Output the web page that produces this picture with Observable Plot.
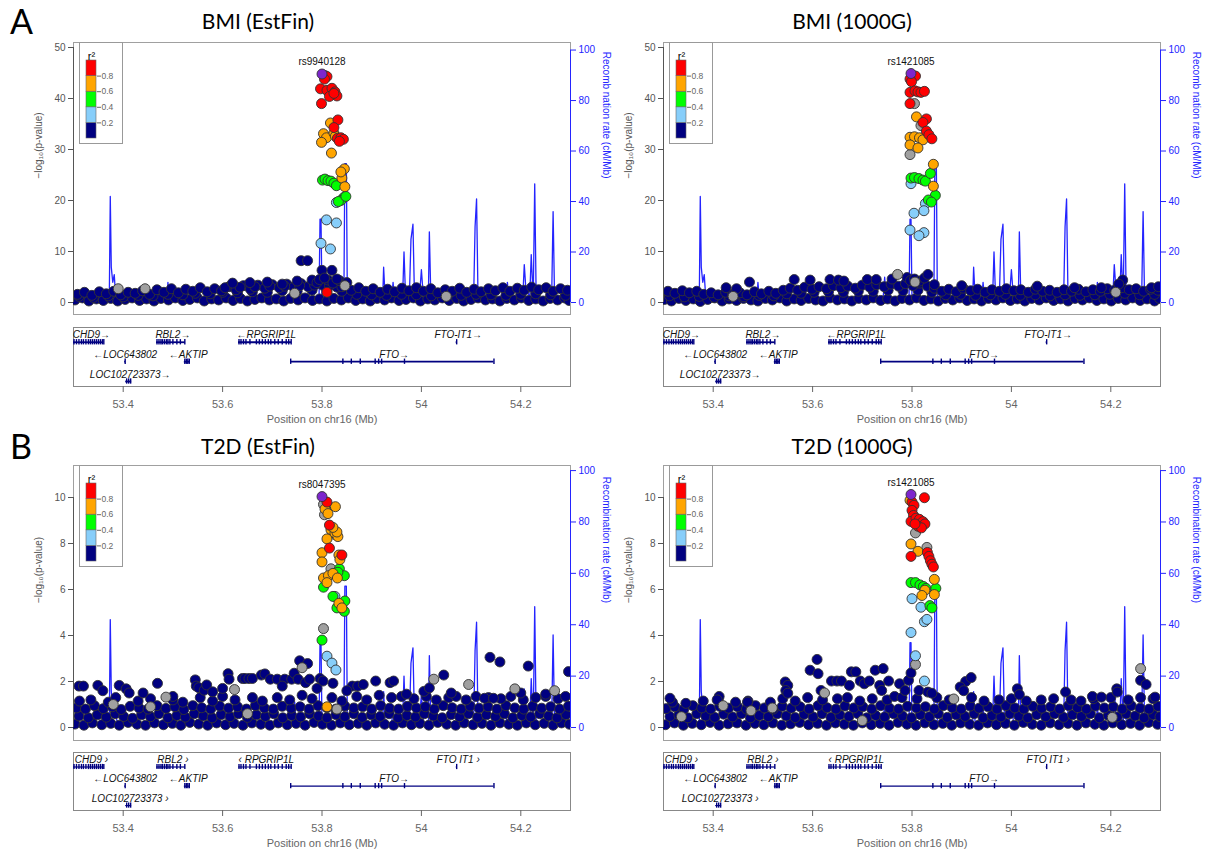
<!DOCTYPE html>
<html><head><meta charset="utf-8">
<script src="https://cdn.jsdelivr.net/npm/d3@7"></script>
<script src="https://cdn.jsdelivr.net/npm/@observablehq/plot@0.6"></script>
<style>
body{margin:0;background:#fff;}
#root{position:relative;width:1211px;height:850px;overflow:hidden;font-family:"Liberation Sans",Arial,sans-serif;}
.abs{position:absolute;}
.ttl{font-family:Lato,"Open Sans",sans-serif;font-size:21px;color:#000;transform:translate(-50%,-50%);white-space:nowrap;}
.let{font-family:Lato,"Open Sans",sans-serif;font-size:34px;line-height:1;color:#000;}
.leg{border:1px solid #999;background:#fff;}
</style></head>
<body><div id="root"></div>
<script>
// ---------------- shared data ----------------
const xTicks = [53.4, 53.6, 53.8, 54, 54.2];
const recomb = [[53.300,1.5],[53.330,1.2],[53.360,2.0],[53.372,1.0],[53.374,42],[53.376,14],[53.379,8],[53.382,11],[53.384,5],[53.387,3],[53.390,1],[53.420,0.8],[53.450,0.5],[53.488,1],[53.490,8],[53.493,1],[53.530,0.8],[53.570,1.2],[53.610,2],[53.650,1.5],[53.700,1.5],[53.742,2],[53.745,10],[53.748,1.5],[53.780,0.8],[53.794,1],[53.796,33],[53.798,33],[53.800,1],[53.830,0.8],[53.844,1],[53.846,55],[53.849,55],[53.851,1],[53.870,1],[53.873,5],[53.876,1],[53.900,1],[53.922,1],[53.924,14],[53.927,2],[53.940,1],[53.943,8],[53.946,1],[53.962,1],[53.965,20],[53.968,3],[53.976,4],[53.979,25],[53.983,31],[53.986,3],[53.996,2],[54.000,13],[54.004,2],[54.014,2],[54.016,28],[54.019,2],[54.050,1.5],[54.080,1],[54.105,1],[54.108,30],[54.111,41],[54.114,1],[54.150,1],[54.170,1],[54.173,8],[54.176,2],[54.204,2],[54.207,15],[54.210,6],[54.218,2],[54.221,19],[54.225,1],[54.228,47],[54.231,1],[54.262,1],[54.265,36],[54.268,1],[54.285,3],[54.300,6]];

const geneName  = ["CHD9","RBL2","RPGRIP1L","FTO-IT1","LOC643802","AKTIP","FTO","LOC102723373"];
const geneStart = [53.300,53.467,53.632,54.070,53.403,53.523,53.737,53.405];
const geneEnd   = [53.361,53.525,53.739,54.072,53.405,53.535,54.146,53.417];
const geneRow   = [0,0,0,0,1,1,1,2];
const geneLabelPos = [53.336,53.500,53.688,54.074,53.404,53.531,53.945,53.414];
const geneLabelA = ["CHD9→","RBL2→","←RPGRIP1L","FTO-IT1→","←LOC643802","←AKTIP","FTO→","LOC102723373→"];
const geneLabelB = ["CHD9 ›","RBL2 ›","‹ RPGRIP1L","FTO IT1 ›","←LOC643802","←AKTIP","FTO→","LOC102723373 ›"];
const exonPos = [
 [53.301,53.306,53.311,53.316,53.320,53.325,53.330,53.334,53.338,53.342,53.346,53.350,53.354,53.358,53.361],
 [53.468,53.472,53.476,53.479,53.483,53.487,53.490,53.494,53.500,53.508,53.515,53.524],
 [53.633,53.637,53.642,53.647,53.655,53.668,53.674,53.680,53.686,53.692,53.697,53.705,53.712,53.720,53.728,53.733,53.738],
 [54.071],
 [53.404],
 [53.524,53.527,53.530,53.533],
 [53.737,53.842,53.859,53.877,53.907,53.914,53.920,53.966,54.146],
 [53.407,53.411,53.415]
];
const rowLineY = [0.25,0.58,0.915], rowLabelY = [0.125,0.46,0.80];

// ---------------- BMI (EstFin) ----------------
const bmiEstLead = [53.800,44.8];
const bmiEstRed = [[53.810,44.3],[53.805,43.8],[53.797,41.9],[53.810,41.6],[53.820,42.0],[53.826,41.3],[53.830,40.5],[53.815,40.4],[53.824,41.0],[53.799,39.0],[53.832,35.8],[53.824,34.3],[53.831,32.2],[53.838,32.3],[53.843,32.0],[53.835,31.6],[53.810,2.0]];
const bmiEstOrange = [[53.817,35.2],[53.803,33.1],[53.809,32.3],[53.799,31.4],[53.824,33.2],[53.827,32.6],[53.819,29.3],[53.845,26.2],[53.840,24.4],[53.846,22.7],[53.838,25.6]];
const bmiEstGreen = [[53.801,24.0],[53.806,24.2],[53.812,23.9],[53.818,23.8],[53.824,23.4],[53.829,22.9],[53.844,20.6],[53.838,20.0],[53.833,19.8],[53.848,20.8]];
const bmiEstLightBlue = [[53.829,19.6],[53.809,16.2],[53.829,15.6],[53.798,11.6],[53.817,10.5]];
const bmiEstGray = [[53.806,44.5],[53.813,41.3],[53.818,41.1],[53.390,2.7],[53.444,2.7],[53.846,3.3],[53.745,1.8],[54.05,1.2]];
const bmiEstNavy = [
 [53.303,0.5],[53.318,0.9],[53.331,0.3],[53.346,0.7],[53.360,0.4],[53.375,0.8],[53.389,0.3],[53.404,0.6],[53.418,0.9],[53.433,0.4],[53.447,0.7],[53.462,0.3],[53.476,0.8],[53.491,0.5],[53.505,0.9],[53.520,0.4],[53.534,0.6],[53.549,0.9],[53.563,0.3],[53.578,0.7],[53.592,0.5],[53.607,0.9],[53.621,0.4],[53.636,0.8],[53.650,0.3],[53.665,0.6],[53.679,0.9],[53.694,0.5],[53.708,0.7],[53.723,0.3],[53.737,0.8],[53.752,0.5],[53.766,0.9],[53.781,0.4],[53.795,0.7],[53.810,0.3],[53.824,0.8],[53.839,0.5],[53.853,0.9],[53.868,0.4],[53.882,0.7],[53.897,0.3],[53.911,0.8],[53.926,0.5],[53.940,0.9],[53.955,0.4],[53.969,0.6],[53.984,0.9],[53.998,0.3],[54.013,0.7],[54.027,0.5],[54.042,0.9],[54.056,0.4],[54.071,0.8],[54.085,0.3],[54.100,0.6],[54.114,0.9],[54.129,0.5],[54.143,0.7],[54.158,0.3],[54.172,0.8],[54.187,0.5],[54.201,0.9],[54.216,0.4],[54.230,0.7],[54.245,0.3],[54.259,0.8],[54.274,0.5],[54.288,0.9],[54.297,0.4],
 [53.311,1.2],[53.340,1.0],[53.370,1.3],[53.400,1.1],[53.430,1.4],[53.460,1.3],[53.490,1.6],[53.520,1.5],[53.545,1.8],[53.575,1.7],[53.600,2.0],[53.630,1.9],[53.660,2.1],[53.690,2.0],[53.720,2.3],[53.750,2.2],[53.780,2.4],[53.810,2.3],[53.840,2.2],[53.870,1.6],[53.900,1.5],[53.930,1.4],[53.960,1.6],[53.990,1.5],[54.020,1.3],[54.050,1.5],[54.080,1.4],[54.110,1.6],[54.140,1.5],[54.170,1.4],[54.200,1.6],[54.230,1.7],[54.260,1.5],[54.290,1.4],
 [53.308,1.6],[53.322,2.0],[53.337,1.4],[53.352,2.1],[53.366,1.7],[53.381,2.2],[53.395,1.5],[53.410,2.0],[53.424,1.8],[53.439,2.3],[53.453,1.6],[53.468,2.5],[53.482,2.0],[53.497,2.7],[53.511,1.9],[53.526,2.6],[53.540,2.2],[53.555,2.9],[53.569,2.1],[53.584,2.7],[53.598,2.3],[53.613,3.1],[53.627,2.5],[53.642,3.3],[53.656,2.6],[53.671,3.4],[53.685,2.8],[53.700,3.5],[53.714,2.9],[53.729,3.6],[53.743,3.0],[53.758,3.7],[53.772,3.1],[53.787,3.8],[53.801,3.4],[53.816,3.9],[53.830,3.0],[53.845,3.5],[53.859,2.4],[53.874,2.9],[53.888,2.2],[53.903,2.7],[53.917,2.0],[53.932,2.6],[53.946,2.1],[53.961,2.8],[53.975,2.3],[53.990,2.9],[54.004,2.2],[54.019,2.7],[54.033,1.9],[54.048,2.5],[54.062,2.2],[54.077,2.8],[54.091,2.0],[54.106,2.6],[54.120,2.1],[54.135,2.7],[54.149,2.3],[54.164,2.9],[54.178,2.2],[54.193,2.8],[54.207,2.4],[54.222,3.0],[54.236,2.5],[54.251,2.9],[54.265,2.2],[54.280,2.7],[54.294,2.4],
 [53.605,2.9],[53.635,3.0],[53.665,3.1],[53.695,3.2],[53.725,3.2],[53.755,3.3],[53.785,3.4],[53.815,3.3],[53.840,3.1],
 [53.620,3.8],[53.655,3.9],[53.690,4.0],[53.720,3.6],[53.750,4.2],[53.780,4.4],[53.790,3.9],[53.812,4.4],[53.822,3.8],[53.835,4.3],[53.850,3.9],[53.758,8.2],[53.771,8.2],[53.800,6.3],[53.820,6.3],[53.795,4.5],[53.805,4.8],[53.830,4.6]
];

// ---------------- BMI (1000G) ----------------
const bmi1kLead = [53.798,44.9];
const bmi1kRed = [[53.807,44.4],[53.796,43.8],[53.799,43.3],[53.796,41.2],[53.806,41.5],[53.812,41.3],[53.818,41.2],[53.825,41.4],[53.796,39.0],[53.829,36.0],[53.822,35.3],[53.829,33.6],[53.834,32.9],[53.840,32.1]];
const bmi1kOrange = [[53.809,36.4],[53.796,32.4],[53.805,32.5],[53.815,32.3],[53.822,31.9],[53.796,30.9],[53.812,30.3],[53.843,27.1],[53.843,22.8]];
const bmi1kGreen = [[53.798,24.4],[53.805,24.5],[53.814,24.3],[53.822,24.0],[53.827,23.8],[53.837,25.3],[53.847,21.0],[53.833,20.1],[53.839,19.7]];
const bmi1kLightBlue = [[53.798,23.3],[53.827,19.4],[53.804,17.5],[53.824,18.0],[53.796,14.2],[53.824,13.7],[53.814,13.1]];
const bmi1kGray = [[53.805,39.0],[53.818,34.7],[53.796,29.0],[53.771,5.5],[53.806,4.0],[53.440,1.2],[54.210,2.0]];
const bmi1kNavy = [
 [53.302,0.6],[53.316,0.3],[53.331,0.8],[53.345,0.4],[53.360,0.7],[53.374,0.2],[53.389,0.6],[53.403,0.9],[53.418,0.3],[53.432,0.7],[53.447,0.4],[53.461,0.8],[53.476,0.5],[53.490,0.3],[53.505,0.8],[53.519,0.5],[53.534,0.9],[53.548,0.3],[53.563,0.7],[53.577,0.4],[53.592,0.8],[53.606,0.5],[53.621,0.3],[53.635,0.9],[53.650,0.5],[53.664,0.7],[53.679,0.3],[53.693,0.8],[53.708,0.5],[53.722,0.9],[53.737,0.4],[53.751,0.7],[53.766,0.3],[53.780,0.8],[53.795,0.5],[53.809,0.9],[53.824,0.4],[53.838,0.7],[53.853,0.3],[53.867,0.8],[53.882,0.5],[53.896,0.9],[53.911,0.4],[53.925,0.7],[53.940,0.3],[53.954,0.8],[53.969,0.5],[53.983,0.9],[53.998,0.4],[54.012,0.7],[54.027,0.3],[54.041,0.8],[54.056,0.5],[54.070,0.9],[54.085,0.4],[54.099,0.7],[54.114,0.3],[54.128,0.8],[54.143,0.5],[54.157,0.9],[54.172,0.4],[54.186,0.7],[54.201,0.3],[54.215,0.8],[54.230,0.5],[54.244,0.9],[54.259,0.4],[54.273,0.7],[54.288,0.3],[54.298,0.8],
 [53.312,1.3],[53.342,1.1],[53.372,1.2],[53.402,1.0],[53.432,1.3],[53.462,1.1],[53.492,1.4],[53.522,1.3],[53.548,1.7],[53.577,1.8],[53.603,2.0],[53.632,2.1],[53.662,2.0],[53.692,2.2],[53.722,2.2],[53.752,2.4],[53.782,2.3],[53.812,2.4],[53.840,2.0],[53.868,1.5],[53.898,1.6],[53.928,1.4],[53.958,1.5],[53.988,1.6],[54.018,1.4],[54.048,1.5],[54.078,1.3],[54.108,1.5],[54.138,1.4],[54.168,1.5],[54.198,1.6],[54.228,1.8],[54.258,1.5],[54.288,1.6],
 [53.309,2.2],[53.323,1.8],[53.338,2.3],[53.352,1.9],[53.367,2.2],[53.381,1.6],[53.396,1.9],[53.410,1.5],[53.425,2.0],[53.439,1.6],[53.454,1.9],[53.468,1.5],[53.483,2.1],[53.497,1.7],[53.512,2.2],[53.526,1.8],[53.541,2.4],[53.555,2.8],[53.570,2.4],[53.584,3.0],[53.599,2.6],[53.613,3.1],[53.628,2.7],[53.642,3.3],[53.657,2.9],[53.671,3.2],[53.686,2.8],[53.700,3.4],[53.715,3.0],[53.729,3.5],[53.744,3.1],[53.758,3.6],[53.773,3.2],[53.787,3.7],[53.802,3.3],[53.816,3.8],[53.831,3.2],[53.845,2.8],[53.860,2.2],[53.874,2.6],[53.889,2.1],[53.903,2.8],[53.918,2.3],[53.932,2.6],[53.947,2.0],[53.961,2.5],[53.976,2.2],[53.990,2.7],[54.005,2.3],[54.019,2.5],[54.034,2.0],[54.048,2.6],[54.063,2.2],[54.077,2.4],[54.092,2.0],[54.106,2.5],[54.121,2.2],[54.135,2.6],[54.150,2.1],[54.164,2.5],[54.179,2.2],[54.193,2.7],[54.208,2.4],[54.222,2.9],[54.237,2.5],[54.251,2.7],[54.266,2.2],[54.280,2.6],[54.295,2.4],
 [53.426,2.9],[53.447,2.7],[53.473,4.0],[53.563,4.5],[53.595,4.4],[53.635,4.5],[53.652,4.4],[53.663,4.2],[53.710,4.5],[53.728,4.5],[53.760,4.6],[53.790,4.9],[53.797,4.3],[53.805,4.6],[53.815,4.2],[53.825,4.8],[53.832,5.5],[53.845,3.5],[53.900,3.3],[54.052,3.2],[54.127,2.9],[54.181,2.9],[54.224,4.4],[54.216,3.6],[54.282,2.9],[54.296,3.1]
];

// ---------------- T2D (EstFin) ----------------
const t2dEstLead = [53.800,10.04];
const t2dEstRed = [[53.810,9.8],[53.815,8.8],[53.815,7.8],[53.840,7.5]];
const t2dEstOrange = [[53.827,9.6],[53.806,9.5],[53.812,9.3],[53.818,8.6],[53.826,8.45],[53.832,8.3],[53.810,8.2],[53.830,8.5],[53.822,8.7],[53.800,7.6],[53.800,7.2],[53.834,7.5],[53.836,7.3],[53.803,6.5],[53.813,6.6],[53.822,6.7],[53.831,6.5],[53.810,6.3],[53.834,5.4],[53.840,5.2],[53.810,0.9]];
const t2dEstGreen = [[53.835,6.9],[53.845,6.6],[53.832,6.75],[53.803,6.1],[53.822,5.7],[53.846,5.5],[53.830,5.2],[53.845,5.05],[53.800,3.8]];
const t2dEstLightBlue = [[53.826,5.7],[53.810,3.1],[53.820,2.8],[53.828,2.5]];
const t2dEstGray = [[53.803,9.7],[53.808,9.45],[53.805,9.25],[53.820,8.55],[53.825,8.4],[53.818,6.9],[53.803,4.3],[53.486,1.32],[53.624,1.65],[53.760,2.6],[54.025,2.1],[54.095,1.87],[54.188,1.68],[54.268,1.6],[53.380,1.0],[53.650,0.6],[53.830,0.8],[53.455,0.9]];
const t2dEstNavy = [
 [53.303,.15],[53.321,.1],[53.338,.2],[53.357,.12],[53.375,.18],[53.392,.1],[53.410,.22],[53.428,.14],[53.445,.1],[53.463,.2],[53.481,.12],[53.499,.18],[53.516,.1],[53.534,.22],[53.552,.15],[53.570,.1],[53.588,.2],[53.606,.12],[53.623,.18],[53.641,.1],[53.659,.2],[53.677,.14],[53.695,.1],[53.712,.2],[53.730,.12],[53.748,.18],[53.766,.1],[53.784,.22],[53.801,.14],[53.819,.1],[53.837,.2],[53.855,.12],[53.873,.18],[53.890,.1],[53.908,.2],[53.926,.14],[53.944,.1],[53.962,.2],[53.980,.12],[53.997,.18],[54.015,.1],[54.033,.22],[54.051,.14],[54.069,.1],[54.086,.2],[54.104,.12],[54.122,.18],[54.140,.1],[54.158,.2],[54.176,.14],[54.193,.1],[54.211,.2],[54.229,.12],[54.247,.18],[54.265,.1],[54.282,.2],[54.298,.14],
 [53.311,.5],[53.330,.42],[53.348,.55],[53.366,.45],[53.384,.6],[53.401,.48],[53.419,.4],[53.437,.55],[53.455,.47],[53.472,.6],[53.490,.42],[53.508,.52],[53.525,.45],[53.543,.6],[53.561,.5],[53.579,.42],[53.597,.56],[53.615,.47],[53.632,.6],[53.650,.44],[53.668,.55],[53.686,.48],[53.703,.6],[53.721,.42],[53.739,.52],[53.757,.46],[53.775,.6],[53.793,.5],[53.810,.42],[53.828,.56],[53.846,.47],[53.864,.6],[53.881,.44],[53.899,.55],[53.917,.48],[53.935,.6],[53.953,.42],[53.971,.52],[53.988,.46],[54.006,.6],[54.024,.5],[54.042,.42],[54.060,.56],[54.077,.47],[54.095,.6],[54.113,.44],[54.131,.55],[54.149,.48],[54.167,.6],[54.184,.42],[54.202,.52],[54.220,.46],[54.238,.6],[54.256,.5],[54.273,.42],[54.291,.56],
 [53.306,.85],[53.324,.8],[53.342,.95],[53.360,.82],[53.378,.9],[53.396,.78],[53.414,.92],[53.432,.85],[53.450,.8],[53.468,.95],[53.486,.83],[53.504,.9],[53.522,.78],[53.540,.95],[53.558,.86],[53.576,.8],[53.594,.93],[53.612,.84],[53.630,.9],[53.648,.8],[53.666,.95],[53.684,.85],[53.702,.8],[53.720,.92],[53.738,.84],[53.756,.9],[53.774,.8],[53.792,.95],[53.810,.86],[53.828,.8],[53.846,.93],[53.864,.85],[53.882,.9],[53.900,.8],[53.918,.95],[53.936,.84],[53.954,.8],[53.972,.92],[53.990,.85],[54.008,.9],[54.026,.8],[54.044,.95],[54.062,.86],[54.080,.8],[54.098,.93],[54.116,.84],[54.134,.9],[54.152,.8],[54.170,.95],[54.188,.85],[54.206,.8],[54.224,.92],[54.242,.84],[54.260,.9],[54.278,.8],[54.296,.93],
 [53.312,1.15],[53.335,1.2],[53.370,1.1],[53.385,1.3],[53.430,1.15],[53.455,1.25],[53.500,1.2],[53.520,1.1],[53.555,1.3],[53.580,1.15],[53.600,1.35],[53.625,1.2],[53.660,1.3],[53.680,1.15],[53.710,1.3],[53.735,1.2],[53.760,1.4],[53.780,1.25],[53.820,1.3],[53.840,1.15],[53.870,1.35],[53.890,1.2],[53.915,1.4],[53.940,1.3],[53.960,1.35],[53.985,1.25],[54.010,1.35],[54.030,1.2],[54.055,1.3],[54.070,1.35],[54.090,1.2],[54.110,1.35],[54.135,1.3],[54.160,1.25],[54.180,1.35],[54.205,1.2],[54.230,1.3],[54.250,1.35],[54.275,1.25],[54.290,1.35],
 [53.311,1.8],[53.320,1.8],[53.349,1.83],[53.359,1.6],[53.392,1.83],[53.406,1.68],[53.412,1.5],[53.469,1.92],[53.500,1.35],[53.545,2.07],[53.547,1.8],[53.552,1.73],[53.563,1.62],[53.568,1.85],[53.611,2.34],[53.613,2.1],[53.640,2.13],[53.645,2.13],[53.653,2.13],[53.660,2.13],[53.678,2.28],[53.685,2.33],[53.696,2.1],[53.710,2.1],[53.725,2.1],[53.739,2.1],[53.720,1.8],[53.744,2.36],[53.755,2.9],[53.771,2.78],[53.752,2.1],[53.767,1.95],[53.775,2.1],[53.796,2.13],[53.802,2.02],[53.822,1.92],[53.861,1.8],[53.872,1.8],[53.883,1.87],[53.908,2.02],[53.937,1.95],[53.944,2.02],[54.005,1.57],[54.016,1.72],[54.045,2.28],[54.138,3.05],[54.158,2.85],[54.215,2.67],[54.296,2.43],[54.127,1.27],[54.145,1.27],[53.440,1.5],[53.580,1.55],[53.600,1.7],[53.790,1.7],[53.850,1.6],[53.970,1.45],[54.060,1.5],[54.200,1.5],[54.250,1.45]
];

// ---------------- T2D (1000G) ----------------
const t2d1kLead = [53.798,10.13];
const t2d1kRed = [[53.825,9.99],[53.800,9.8],[53.804,9.66],[53.800,9.44],[53.803,9.22],[53.798,8.96],[53.808,9.1],[53.815,9.05],[53.822,8.95],[53.826,8.85],[53.812,8.75],[53.819,8.68],[53.806,8.85],[53.798,7.44],[53.831,7.61],[53.834,7.44],[53.837,7.25],[53.840,7.1],[53.843,6.98]];
const t2d1kOrange = [[53.796,9.88],[53.798,7.98],[53.812,7.66],[53.845,6.44],[53.826,5.97],[53.820,5.74],[53.845,5.78]];
const t2d1kGreen = [[53.798,6.3],[53.807,6.3],[53.816,6.2],[53.823,6.13],[53.828,6.05],[53.848,6.05],[53.836,5.3],[53.840,5.2]];
const t2d1kLightBlue = [[53.800,5.6],[53.818,5.23],[53.825,4.6],[53.830,4.7],[53.798,4.13],[53.807,3.12],[53.825,2.02]];
const t2d1kGray = [[53.807,8.46],[53.830,7.83],[53.807,2.74],[53.336,0.47],[53.476,0.73],[53.519,0.85],[53.624,1.5],[53.884,1.24],[54.203,0.44],[54.260,2.56],[53.420,0.95],[53.700,0.3]];
const t2d1kNavy = [
 [53.304,.12],[53.322,.2],[53.340,.1],[53.358,.18],[53.376,.12],[53.394,.22],[53.412,.1],[53.430,.16],[53.448,.2],[53.466,.1],[53.484,.18],[53.502,.12],[53.520,.2],[53.538,.1],[53.556,.16],[53.574,.22],[53.592,.12],[53.610,.18],[53.628,.1],[53.646,.2],[53.664,.14],[53.682,.1],[53.700,.2],[53.718,.12],[53.736,.18],[53.754,.1],[53.772,.22],[53.790,.14],[53.808,.1],[53.826,.2],[53.844,.12],[53.862,.18],[53.880,.1],[53.898,.2],[53.916,.14],[53.934,.1],[53.952,.2],[53.970,.12],[53.988,.18],[54.006,.1],[54.024,.22],[54.042,.14],[54.060,.1],[54.078,.2],[54.096,.12],[54.114,.18],[54.132,.1],[54.150,.2],[54.168,.14],[54.186,.1],[54.204,.2],[54.222,.12],[54.240,.18],[54.258,.1],[54.276,.22],[54.294,.14],
 [53.313,.48],[53.331,.55],[53.349,.42],[53.367,.6],[53.385,.5],[53.403,.44],[53.421,.58],[53.439,.46],[53.457,.6],[53.475,.42],[53.493,.52],[53.511,.47],[53.529,.6],[53.547,.5],[53.565,.43],[53.583,.57],[53.601,.46],[53.619,.6],[53.637,.44],[53.655,.54],[53.673,.48],[53.691,.6],[53.709,.42],[53.727,.52],[53.745,.46],[53.763,.6],[53.781,.5],[53.799,.42],[53.817,.56],[53.835,.47],[53.853,.6],[53.871,.44],[53.889,.55],[53.907,.48],[53.925,.6],[53.943,.42],[53.961,.52],[53.979,.46],[53.997,.6],[54.015,.5],[54.033,.42],[54.051,.56],[54.069,.47],[54.087,.6],[54.105,.44],[54.123,.55],[54.141,.48],[54.159,.6],[54.177,.42],[54.195,.52],[54.213,.46],[54.231,.6],[54.249,.5],[54.267,.42],[54.285,.56],[54.299,.47],
 [53.305,.82],[53.323,.9],[53.341,.8],[53.359,.95],[53.377,.85],[53.395,.8],[53.413,.92],[53.431,.84],[53.449,.9],[53.467,.8],[53.485,.95],[53.503,.85],[53.521,.8],[53.539,.92],[53.557,.84],[53.575,.9],[53.593,.8],[53.611,.95],[53.629,.86],[53.647,.8],[53.665,.93],[53.683,.85],[53.701,.9],[53.719,.8],[53.737,.95],[53.755,.84],[53.773,.8],[53.791,.92],[53.809,.85],[53.827,.9],[53.845,.8],[53.863,.95],[53.881,.86],[53.899,.8],[53.917,.93],[53.935,.84],[53.953,.9],[53.971,.8],[53.989,.95],[54.007,.85],[54.025,.8],[54.043,.92],[54.061,.84],[54.079,.9],[54.097,.8],[54.115,.95],[54.133,.86],[54.151,.8],[54.169,.93],[54.187,.85],[54.205,.9],[54.223,.8],[54.241,.95],[54.259,.84],[54.277,.8],[54.295,.92],
 [53.318,1.1],[53.345,1.05],[53.380,1.15],[53.410,1.2],[53.445,1.1],[53.470,1.15],[53.515,1.1],[53.540,1.25],[53.565,1.15],[53.590,1.3],[53.620,1.2],[53.650,1.25],[53.670,1.3],[53.695,1.15],[53.720,1.25],[53.750,1.2],[53.765,1.35],[53.780,1.3],[53.810,1.25],[53.850,1.3],[53.875,1.2],[53.920,1.3],[53.945,1.15],[53.975,1.2],[54.000,1.25],[54.030,1.15],[54.060,1.2],[54.085,1.25],[54.120,1.2],[54.140,1.15],[54.165,1.25],[54.200,1.3],[54.235,1.2],[54.260,1.3],[54.285,1.25],
 [53.313,1.27],[53.412,1.35],[53.408,1.2],[53.469,1.1],[53.545,1.98],[53.550,1.83],[53.546,1.61],[53.550,1.49],[53.595,2.49],[53.609,2.96],[53.611,2.34],[53.617,1.61],[53.638,2.02],[53.649,2.02],[53.658,2.02],[53.674,1.83],[53.678,2.42],[53.687,2.42],[53.696,2.02],[53.704,1.9],[53.714,2.02],[53.726,2.49],[53.742,2.56],[53.735,1.83],[53.739,1.61],[53.753,2.02],[53.775,1.9],[53.786,1.61],[53.793,2.05],[53.798,2.37],[53.814,1.61],[53.832,1.54],[53.840,1.49],[53.908,2.0],[53.919,2.17],[53.897,1.76],[53.904,1.6],[54.012,1.68],[54.016,1.43],[54.109,1.54],[54.163,1.35],[54.181,1.32],[54.212,1.68],[54.213,1.54],[54.260,2.05],[54.271,1.87],[54.289,1.32]
];

// ---------------- styling constants ----------------
const NAVY="#000080", LBLUE="#87CEFA", GREEN="#00FF00", ORANGE="#FFA500", RED="#FF0000", PURPLE="#7D26CD", GRAY="#A0A0A0", BLUE="#2424FF";
const colorScale = {type:"threshold", domain:[0.2,0.4,0.6,0.8], range:[NAVY,LBLUE,GREEN,ORANGE,RED]};
const FONT = "'Liberation Sans', Arial, sans-serif";

function rows(arr, r2){ return arr.map(([pos,p]) => ({pos, p, r2})); }

const panels = [
 {title:"BMI (EstFin)", letter:"A", ox:0, oy:0, frameTop:42, frameBottom:314, y0:302, pxUnit:5.1, k:0.495, yTicks:[0,10,20,30,40,50], rs:"rs9940128",
  lead:bmiEstLead, red:bmiEstRed, orange:bmiEstOrange, green:bmiEstGreen, lblue:bmiEstLightBlue, navy:bmiEstNavy, gray:bmiEstGray, geneTop:320, geneH:110, geneMb:44, labels:geneLabelA, exonW:1.8, titleX:258, titleY:20, rlabel:"Recomb nation rate (cM/Mb)"},
 {title:"BMI (1000G)", letter:null, ox:590, oy:0, frameTop:42, frameBottom:314, y0:302, pxUnit:5.1, k:0.495, yTicks:[0,10,20,30,40,50], rs:"rs1421085",
  lead:bmi1kLead, red:bmi1kRed, orange:bmi1kOrange, green:bmi1kGreen, lblue:bmi1kLightBlue, navy:bmi1kNavy, gray:bmi1kGray, geneTop:320, geneH:110, geneMb:44, labels:geneLabelA, exonW:1.8, titleX:852, titleY:20, rlabel:"Recomb nation rate (cM/Mb)"},
 {title:"T2D (EstFin)", letter:"B", ox:0, oy:425, frameTop:465, frameBottom:740, y0:727, pxUnit:23, k:0.1117, yTicks:[0,2,4,6,8,10], rs:"rs8047395",
  lead:t2dEstLead, red:t2dEstRed, orange:t2dEstOrange, green:t2dEstGreen, lblue:t2dEstLightBlue, navy:t2dEstNavy, gray:t2dEstGray, geneTop:745, geneH:105, geneMb:40, labels:geneLabelB, exonW:1.2, titleX:258, titleY:445, rlabel:"Recombination rate (cM/Mb)"},
 {title:"T2D (1000G)", letter:null, ox:590, oy:425, frameTop:465, frameBottom:740, y0:727, pxUnit:23, k:0.1117, yTicks:[0,2,4,6,8,10], rs:"rs1421085",
  lead:t2d1kLead, red:t2d1kRed, orange:t2d1kOrange, green:t2d1kGreen, lblue:t2d1kLightBlue, navy:t2d1kNavy, gray:t2d1kGray, geneTop:745, geneH:105, geneMb:40, labels:geneLabelB, exonW:1.2, titleX:852, titleY:445, rlabel:"Recombination rate (cM/Mb)"}
];

const root = document.getElementById("root");
function place(node, left, top, cls){ node.classList.add("abs"); if(cls) node.classList.add(cls); node.style.left=left+"px"; node.style.top=top+"px"; root.appendChild(node); return node; }
function textDiv(txt, left, top, cls){ const d=document.createElement("div"); d.textContent=txt; return place(d,left,top,cls); }

const recombRows = recomb.map(([pos,rate]) => ({pos, rate}));

for (const P of panels) {
  const svgH = 320;
  const mt = P.frameTop - P.oy, mb = (P.oy + svgH) - P.frameBottom;
  const yDomain = [-(P.frameBottom - P.y0)/P.pxUnit, (P.y0 - P.frameTop)/P.pxUnit];
  const colored = [...rows(P.lblue,0.3), ...rows(P.green,0.5), ...rows(P.orange,0.7), ...rows(P.red,0.9)];
  const leadRow = {pos:P.lead[0], p:P.lead[1]};
  const dotOpts = {x:"pos", y:"p", r:5, stroke:"#333", strokeWidth:0.9, clip:true};
  const scatter = Plot.plot({
    width:620, height:svgH, marginLeft:73, marginRight:50, marginTop:mt, marginBottom:mb,
    x:{domain:[53.3,54.3], axis:null},
    y:{domain:yDomain, axis:null},
    color:colorScale,
    style:{fontFamily:FONT, fontSize:"10px", background:"transparent", overflow:"visible"},
    marks:[
      Plot.frame({stroke:"#a0a0a0"}),
      Plot.line(recombRows, {x:"pos", y:d=>d.rate*P.k, stroke:BLUE, strokeWidth:1.3, clip:true}),
      Plot.dot(rows(P.navy,0.1), {...dotOpts, fill:"r2"}),
      Plot.dot(rows(P.gray,null), {...dotOpts, fill:GRAY}),
      Plot.dot(colored, {...dotOpts, fill:"r2"}),
      Plot.dot([leadRow], {...dotOpts, fill:PURPLE}),
      Plot.text([leadRow], {x:"pos", y:"p", text:()=>P.rs, dy:-12, fontSize:10, fill:"#111"}),
      Plot.ruleX([53.3], {y1:0, y2:P.yTicks[P.yTicks.length-1], stroke:"#555"}),
      Plot.ruleX([54.3], {y1:0, y2:100*P.k, stroke:BLUE}),
      Plot.axisY({ticks:P.yTicks, anchor:"left", tickSize:5, tickPadding:3, fontSize:10, color:"#555", label:null}),
      Plot.axisY({ticks:[0,20,40,60,80,100].map(v=>v*P.k), anchor:"right", tickSize:5, tickPadding:3, fontSize:10, color:BLUE, label:null, tickFormat:d=>String(Math.round(d/P.k))}),
      Plot.text(["−log₁₀(p-value)"], {frameAnchor:"left", dx:-35, rotate:-90, fontSize:10, fill:"#555", text:d=>d}),
      Plot.text([P.rlabel], {frameAnchor:"right", dx:36, rotate:90, fontSize:10, fill:BLUE, text:d=>d})
    ]
  });
  place(scatter, P.ox, P.oy);

  // legend
  const bins = [0,0.2,0.4,0.6,0.8].map(lo => ({lo, hi:lo+0.2}));
  const legend = Plot.plot({
    width:42, height:100, marginLeft:6, marginRight:26, marginTop:17, marginBottom:5,
    x:{domain:[0,1], axis:null}, y:{domain:[0,1], axis:null}, color:colorScale,
    style:{fontFamily:FONT, background:"#fff", overflow:"visible"},
    marks:[
      Plot.rect(bins, {x1:0, x2:1, y1:"lo", y2:"hi", fill:d=>d.lo+0.1, stroke:"#666", strokeWidth:0.6}),
      Plot.axisY({ticks:[0.2,0.4,0.6,0.8], anchor:"right", tickSize:4, tickPadding:1, fontSize:8.5, color:"#666", label:null, tickFormat:d=>d.toFixed(1)}),
      Plot.text(["r²"], {frameAnchor:"top", dy:-8, fontSize:11, text:d=>d})
    ]
  });
  place(legend, P.ox + 79, P.frameTop, "leg");

  // gene track
  const genes = geneName.map((name,i) => ({name, start:geneStart[i], end:geneEnd[i], lineY:rowLineY[geneRow[i]], labelY:rowLabelY[geneRow[i]], labelPos:geneLabelPos[i], label:P.labels[i]}));
  const exons = exonPos.flatMap((list,i) => list.map(pos => ({pos, lineY:rowLineY[geneRow[i]]})));
  const track = Plot.plot({
    width:620, height:P.geneH, marginLeft:73, marginRight:50, marginTop:7, marginBottom:P.geneMb,
    x:{domain:[53.3,54.3], axis:null}, y:{domain:[1,0], axis:null},
    style:{fontFamily:FONT, background:"transparent", overflow:"visible"},
    marks:[
      Plot.frame({stroke:"#888"}),
      Plot.ruleY(genes, {x1:"start", x2:"end", y:"lineY", stroke:NAVY, strokeWidth:P.exonW}),
      Plot.ruleX(exons, {x:"pos", y1:d=>d.lineY-0.045, y2:d=>d.lineY+0.045, stroke:NAVY, strokeWidth:1.4}),
      Plot.text(genes, {x:"labelPos", y:"labelY", text:"label", fontStyle:"italic", fontSize:10, fill:"#111"}),
      Plot.axisX({ticks:xTicks, tickSize:6, tickPadding:8, fontSize:11, color:"#666", label:null, tickFormat:d=>String(+d.toFixed(1))}),
      Plot.text(["Position on chr16 (Mb)"], {frameAnchor:"bottom", dy:36, fontSize:11, fill:"#666", text:d=>d})
    ]
  });
  place(track, P.ox, P.geneTop);

  textDiv(P.title, P.titleX, P.titleY, "ttl");
  if (P.letter) textDiv(P.letter, 10, P.titleY - 16, "let");
}
</script></body></html>
